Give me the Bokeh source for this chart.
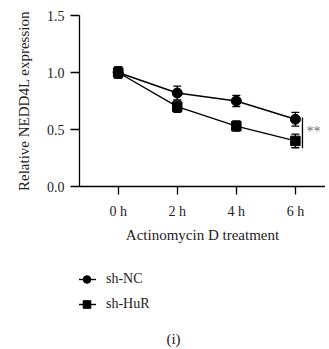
from bokeh.plotting import figure
from bokeh.layouts import column
from bokeh.models import (Whisker, ColumnDataSource, Legend, LegendItem, Label,
                          FixedTicker, Range1d, TeeHead)
from bokeh.embed import file_html
from bokeh.resources import INLINE

# ---- data ----
hours = [0, 2, 4, 6]
tick_labels = ["0 h", "2 h", "4 h", "6 h"]
nc_mean = [1.00, 0.82, 0.75, 0.59]
nc_err = [0.05, 0.06, 0.05, 0.06]
hur_mean = [1.00, 0.70, 0.53, 0.40]
hur_err = [0.05, 0.05, 0.045, 0.06]
series_names = ["sh-NC", "sh-HuR"]
sig_text = "**"
panel_label = "(i)"

FONT = "Liberation Serif"
TXT = "#222222"

p = figure(width=325, height=252, output_backend="svg", toolbar_location=None,
           x_range=Range1d(-1.31, 7.02), y_range=Range1d(0, 1.5),
           min_border_left=79, min_border_right=0, min_border_top=15,
           min_border_bottom=66)
p.outline_line_color = None
p.grid.visible = False

# ---- legend / panel label area (frame aligned with main plot's frame) ----
p2 = figure(width=325, height=95, output_backend="svg", toolbar_location=None,
            x_axis_type=None, y_axis_type=None,
            x_range=Range1d(100, 101), y_range=Range1d(100, 101),
            min_border_left=79, min_border_right=0, min_border_top=0,
            min_border_bottom=0)
p2.outline_line_color = None
p2.grid.visible = False

def make_src(mean, err):
    return ColumnDataSource(dict(x=hours, y=mean,
                                 lo=[m - e for m, e in zip(mean, err)],
                                 hi=[m + e for m, e in zip(mean, err)]))

def add_series(src, marker, size):
    w = Whisker(base="x", lower="lo", upper="hi", source=src,
                line_color="black", line_width=1.3,
                upper_head=TeeHead(size=8, line_color="black", line_width=1.3),
                lower_head=TeeHead(size=8, line_color="black", line_width=1.3))
    p.add_layout(w)
    for fig in (p, p2):
        ln = fig.line("x", "y", source=src, line_color="black", line_width=1.4)
        sc = fig.scatter("x", "y", source=src, marker=marker, size=size,
                         fill_color="black", line_color="black")
    return [ln, sc]   # renderers living in p2, used for the legend

src_nc = make_src(nc_mean, nc_err)
src_hur = make_src(hur_mean, hur_err)
leg_nc = add_series(src_nc, "circle", 10)
leg_hur = add_series(src_hur, "square", 9.5)

# significance bracket
bx = hours[-1] + 0.24
p.segment(x0=[bx], y0=[hur_mean[-1] - hur_err[-1] - 0.005], x1=[bx], y1=[nc_mean[-1] + 0.015],
          line_color="black", line_width=1.3)
p.text(x=[hours[-1] + 0.38], y=[(nc_mean[-1] + hur_mean[-1]) / 2 - 0.01], text=[sig_text],
       text_font={"value": FONT}, text_font_size="14px", text_color="#6f6f6f",
       text_baseline="middle", text_align="left")

# axes
for ax in (p.xaxis[0], p.yaxis[0]):
    ax.axis_line_color = "black"
    ax.axis_line_width = 1.3
    ax.major_tick_line_color = "black"
    ax.major_tick_line_width = 1.3
    ax.minor_tick_line_color = None
    ax.major_tick_in = 0
    ax.major_label_text_font = FONT
    ax.major_label_text_font_size = "14px"
    ax.major_label_text_color = TXT
    ax.axis_label_text_font = FONT
    ax.axis_label_text_font_size = "15px"
    ax.axis_label_text_font_style = "normal"
    ax.axis_label_text_color = TXT

p.yaxis.ticker = FixedTicker(ticks=[0, 0.5, 1.0, 1.5])
p.yaxis.major_label_overrides = {0: "0.0", 0.5: "0.5", 1.0: "1.0", 1.5: "1.5"}
p.yaxis.major_tick_out = 9
p.yaxis.major_label_standoff = 6
p.yaxis.axis_label = "Relative NEDD4L expression"
p.yaxis.axis_label_standoff = 12

p.xaxis.ticker = FixedTicker(ticks=hours)
p.xaxis.major_label_overrides = {h: t for h, t in zip(hours, tick_labels)}
p.xaxis.major_tick_out = 8
p.xaxis.major_label_standoff = 9
p.xaxis.axis_label = "Actinomycin D treatment"
p.xaxis.axis_label_standoff = 5

legend = Legend(items=[LegendItem(label=series_names[0], renderers=leg_nc),
                       LegendItem(label=series_names[1], renderers=leg_hur)],
                location=(-2, 33), orientation="vertical",
                border_line_color=None, background_fill_alpha=0,
                padding=0, margin=0, spacing=5,
                glyph_width=19, glyph_height=20, label_height=20,
                label_standoff=10,
                label_text_font=FONT, label_text_font_size="14px",
                label_text_color=TXT)
p2.add_layout(legend, "center")

p2.add_layout(Label(x=94, y=9, x_units="screen", y_units="screen", text=panel_label,
                    text_font=FONT, text_font_size="15px", text_color=TXT,
                    text_align="center", text_baseline="middle"))

open("out.html", "w").write(file_html(column(p, p2, spacing=0), INLINE))
